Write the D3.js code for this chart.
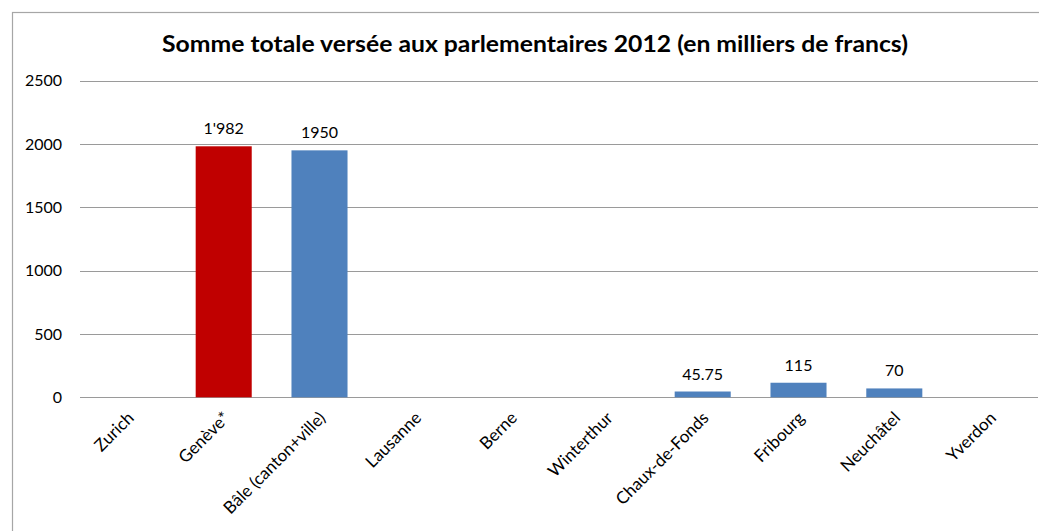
<!DOCTYPE html>
<html><head><meta charset="utf-8">
<script src="https://cdn.jsdelivr.net/npm/d3@7"></script>
<style>body{margin:0;background:#fff;} text{font-family:Lato,"Open Sans",sans-serif;}</style>
</head><body>
<svg id="c" width="1039" height="531"></svg>
<script>
const categories = ["Zurich","Genève*","Bâle (canton+ville)","Lausanne","Berne","Winterthur","Chaux-de-Fonds","Fribourg","Neuchâtel","Yverdon"];
const values = [null,1982,1950,null,null,null,45.75,115,70,null];
const valueLabels = ["","1'982","1950","","","","45.75","115","70",""];
const barColors = ["#4F81BD","#C00000","#4F81BD","#4F81BD","#4F81BD","#4F81BD","#4F81BD","#4F81BD","#4F81BD","#4F81BD"];
const yTicks = [0,500,1000,1500,2000,2500];
const title = "Somme totale versée aux parlementaires 2012 (en milliers de francs)";

const svg = d3.select("#c");
// chart frame
svg.append("rect").attr("x",12.5).attr("y",12.5).attr("width",1040).attr("height",530)
  .attr("fill","none").attr("stroke","#a6a6a6").attr("stroke-width",1.2);

const x = d3.scaleBand().domain(categories).range([80,1038]).paddingInner(0.415).paddingOuter(0.2075);
const y = d3.scaleLinear().domain([0,2500]).range([397.3,80.7]);

// gridlines
svg.append("g").selectAll("line").data(yTicks).join("line")
  .attr("x1",80).attr("x2",1038).attr("y1",d=>Math.round(y(d))+0.5).attr("y2",d=>Math.round(y(d))+0.5)
  .attr("stroke","#9a9a9a").attr("stroke-width",1.2);

// y axis labels
const ya = svg.append("g").attr("transform","translate(62,0)")
  .call(d3.axisLeft(y).tickValues(yTicks).tickSize(0).tickPadding(0).tickFormat(d3.format("d")));
ya.select(".domain").remove();
ya.selectAll("text").attr("font-size",16).attr("fill","#000").attr("font-family","Lato");

// bars
svg.append("g").selectAll("rect").data(categories).join("rect")
  .attr("x",d=>x(d)).attr("width",x.bandwidth())
  .attr("y",(d,i)=>values[i]==null?y(0):y(values[i]))
  .attr("height",(d,i)=>values[i]==null?0:y(0)-y(values[i]))
  .attr("fill",(d,i)=>barColors[i]);

// value labels
svg.append("g").selectAll("text").data(categories).join("text")
  .attr("x",d=>x(d)+x.bandwidth()/2)
  .attr("y",(d,i)=>values[i]==null?y(0):y(values[i])-12)
  .attr("text-anchor","middle").attr("font-size",16).attr("fill","#000")
  .text((d,i)=>valueLabels[i]);

// x axis labels
const xa = svg.append("g").attr("transform","translate(0,397)")
  .call(d3.axisBottom(x).tickSize(0).tickPadding(0));
xa.select(".domain").remove();
xa.selectAll("text").attr("font-size",17).attr("fill","#000").attr("font-family","Lato")
  .attr("text-anchor","end").attr("dy",null).attr("y",0)
  .attr("transform","translate(7,22) rotate(-45)");

// title
svg.append("text").attr("x",535).attr("y",52).attr("text-anchor","middle")
  .attr("font-size",23).attr("font-weight","bold").attr("fill","#000")
  .attr("textLength",746).attr("lengthAdjust","spacingAndGlyphs").text(title);
</script>
</body></html>
